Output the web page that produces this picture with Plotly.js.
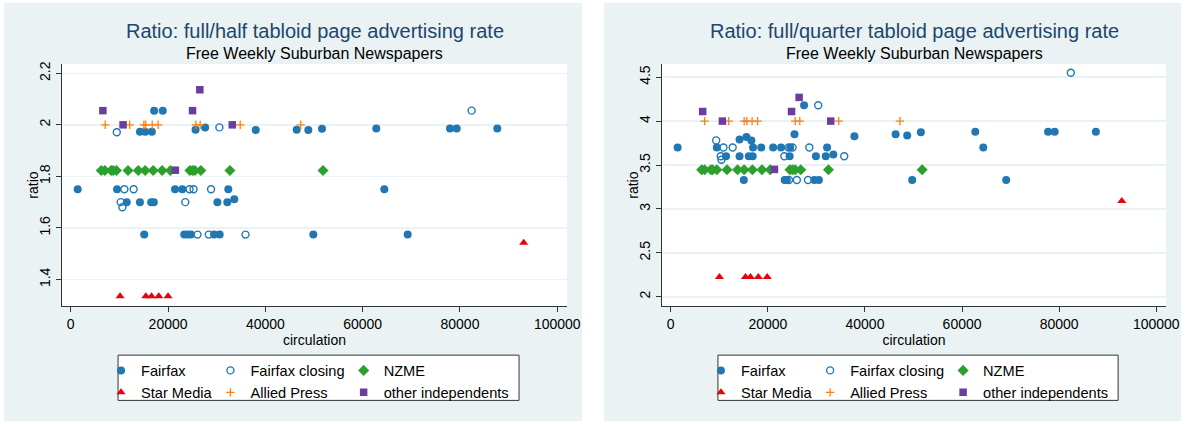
<!DOCTYPE html>
<html><head><meta charset="utf-8">
<script src="https://cdn.plot.ly/plotly-3.0.1.min.js"></script>
<style>
html,body{margin:0;padding:0;background:#fff;width:1188px;height:424px;overflow:hidden;}
#c1{position:absolute;left:4px;top:3px;width:578px;height:418px;}
#c2{position:absolute;left:604px;top:3px;width:577px;height:418px;}
</style></head><body>
<div id="c1"></div><div id="c2"></div>
<script>
// ---------- Series names ----------
var seriesNames = ["Fairfax", "Fairfax closing", "NZME", "Star Media", "Allied Press", "other independents"];

// ---------- Chart 1: full/half ratio ----------
var half_fairfax_x = [1430, 9520, 11500, 14220, 15100, 14220, 15300, 16670, 17140, 18910, 16530, 17070, 21430, 22930, 23330, 24010, 24700, 25650, 27620, 29460, 30610, 30140, 32180, 32380, 33610, 38030, 46440, 48830, 51640, 62800, 64450, 49860, 69250, 77950, 79330, 87670];
var half_fairfax_y = [1.75, 1.75, 1.70, 1.70, 1.574, 1.973, 1.973, 1.973, 2.055, 2.055, 1.70, 1.70, 1.75, 1.75, 1.574, 1.574, 1.574, 1.981, 1.99, 1.574, 1.574, 1.70, 1.70, 1.75, 1.711, 1.98, 1.981, 1.98, 1.985, 1.986, 1.75, 1.574, 1.574, 1.986, 1.986, 1.986];
var half_closing_x = [9460, 10270, 10610, 11020, 12930, 23540, 24420, 25240, 26060, 28370, 28840, 30550, 35920, 82400];
var half_closing_y = [1.971, 1.70, 1.68, 1.75, 1.75, 1.70, 1.75, 1.75, 1.574, 1.574, 1.75, 1.99, 1.574, 2.055];
var half_nzme_x = [6260, 7000, 8300, 8710, 9390, 11770, 13880, 15300, 16940, 18780, 20480, 24490, 25030, 25510, 26740, 32720, 51850];
var half_nzme_y = [1.823, 1.823, 1.823, 1.823, 1.823, 1.823, 1.823, 1.823, 1.823, 1.823, 1.823, 1.823, 1.823, 1.823, 1.823, 1.823, 1.823];
var half_star_x = [10140, 15440, 16600, 18100, 20000, 93100];
var half_star_y = [1.335, 1.335, 1.335, 1.335, 1.335, 1.542];
var half_allied_x = [7080, 12110, 15030, 15400, 16740, 17960, 25720, 26600, 34830, 47270];
var half_allied_y = [2.0, 2.0, 2.0, 2.0, 2.0, 2.0, 2.0, 2.0, 2.0, 2.0];
var half_other_x = [6600, 10750, 21500, 25030, 26530, 33200];
var half_other_y = [2.055, 2.0, 1.824, 2.055, 2.136, 2.0];

// ---------- Chart 2: full/quarter ratio ----------
var q_fairfax_x = [1420, 9490, 11390, 14170, 14170, 15050, 15590, 16610, 16070, 16880, 16950, 18640, 21090, 22720, 23460, 23900, 24610, 24480, 25490, 27460, 29560, 30510, 29900, 32200, 31930, 33490, 37830, 46310, 48700, 51510, 62730, 64370, 49730, 69090, 77710, 79070, 87560];
var q_fairfax_y = [3.70, 3.70, 3.60, 3.79, 3.60, 3.33, 3.82, 3.78, 3.60, 3.60, 3.70, 3.70, 3.70, 3.70, 3.33, 3.33, 3.70, 3.60, 3.85, 4.18, 3.33, 3.33, 3.60, 3.70, 3.60, 3.62, 3.827, 3.85, 3.835, 3.872, 3.88, 3.70, 3.33, 3.33, 3.88, 3.88, 3.88];
var q_closing_x = [9360, 10300, 10440, 10850, 12750, 23390, 24270, 25090, 24340, 25970, 28270, 28540, 30370, 35730, 82400];
var q_closing_y = [3.78, 3.60, 3.56, 3.70, 3.70, 3.60, 3.70, 3.70, 3.33, 3.33, 3.33, 3.70, 4.18, 3.60, 4.55];
var q_nzme_x = [6370, 6980, 8270, 8610, 9490, 11590, 13760, 15120, 16810, 18780, 20480, 24540, 25090, 25630, 26780, 32480, 51780];
var q_nzme_y = [3.447, 3.447, 3.447, 3.447, 3.447, 3.447, 3.447, 3.447, 3.447, 3.447, 3.447, 3.447, 3.447, 3.447, 3.447, 3.447, 3.447];
var q_star_x = [10030, 15390, 16410, 18040, 19870, 92900];
var q_star_y = [2.226, 2.226, 2.226, 2.226, 2.226, 3.09];
var q_allied_x = [6980, 11930, 15120, 15660, 16750, 17900, 25630, 26580, 34580, 47200];
var q_allied_y = [4.0, 4.0, 4.0, 4.0, 4.0, 4.0, 4.0, 4.0, 4.0, 4.0];
var q_other_x = [6580, 10640, 21360, 24880, 26440, 32950];
var q_other_y = [4.109, 4.0, 3.45, 4.109, 4.27, 4.0];

// ---------- Axis ticks ----------
var xTicks = [0, 20000, 40000, 60000, 80000, 100000];
var halfYTicks = [1.4, 1.6, 1.8, 2, 2.2];
var quarterYTicks = [2, 2.5, 3, 3.5, 4, 4.5];

// ---------- Styles ----------
var FONT = "Liberation Sans, Arial, sans-serif";
var BLUE = "#1f77b4", ORANGE = "#ff7f0e", GREEN = "#2ca02c", RED = "#e8000b", PURPLE = "#6b3d9e";
var markerStyles = [
  {symbol: "circle", size: 8, color: BLUE},
  {symbol: "circle-open", size: 7, color: BLUE, line: {color: BLUE, width: 1.4}},
  {symbol: "diamond", size: 8.5, color: GREEN},
  {symbol: "triangle-up", size: 8, color: RED},
  {symbol: "cross-thin-open", size: 6, color: ORANGE, line: {color: ORANGE, width: 1.3}},
  {symbol: "square", size: 7.5, color: PURPLE}
];
// legend column of each series (Stata-like 3 columns x 2 rows)
var legendIds = ["legend", "legend2", "legend3", "legend", "legend2", "legend3"];

function colLegend(x) {
  return {orientation: "v", x: x, xanchor: "left", y: -0.2, yanchor: "top",
          bgcolor: "rgba(0,0,0,0)", borderwidth: 0, tracegroupgap: 0, itemwidth: 30,
          traceorder: "normal", font: {family: FONT, size: 14.6, color: "#000"}};
}

function makeChart(divId, titleText, xs, ys, yRange, yTicks) {
  var traces = xs.map(function (x, i) {
    return {type: "scatter", mode: "markers", name: seriesNames[i], x: x, y: ys[i],
            marker: markerStyles[i], cliponaxis: false, hoverinfo: "skip", legend: legendIds[i]};
  });
  var layout = {
    width: document.getElementById(divId).clientWidth,
    height: 418,
    margin: {l: 58, r: 15, t: 61, b: 113},
    paper_bgcolor: "#eaf2f3",
    plot_bgcolor: "#ffffff",
    font: {family: FONT, color: "#000", size: 14},
    showlegend: true,
    legend: colLegend(0.0773),
    legend2: colLegend(0.2939),
    legend3: colLegend(0.5577),
    xaxis: {range: [-1800, 102000], tickvals: xTicks, tickformat: "d", showgrid: false, zeroline: false,
            showline: true, linecolor: "#333", linewidth: 1, ticks: "outside", ticklen: 5, tickcolor: "#333",
            tickfont: {size: 14}, automargin: false,
            title: {text: "circulation", font: {size: 14}, standoff: 2}},
    yaxis: {range: yRange, tickvals: yTicks, tickangle: -90, showgrid: true, gridcolor: "#eaf2f3", gridwidth: 1.5,
            zeroline: false, showline: true, linecolor: "#333", linewidth: 1, ticks: "outside", ticklen: 5,
            tickcolor: "#333", tickfont: {size: 14}, automargin: false},
    shapes: [
      {type: "rect", xref: "paper", yref: "paper", x0: 0.111, x1: 0.905, y0: -0.203, y1: -0.39,
       line: {color: "#333", width: 1}, fillcolor: "#ffffff", layer: "below"}
    ],
    annotations: [
      {text: titleText, xref: "paper", yref: "paper", x: 0.5, y: 1.135, xanchor: "center", yanchor: "middle",
       showarrow: false, font: {family: FONT, size: 20, color: "#1a476f"}},
      {text: "Free Weekly Suburban Newspapers", xref: "paper", yref: "paper", x: 0.5, y: 1.045,
       xanchor: "center", yanchor: "middle", showarrow: false, font: {family: FONT, size: 16, color: "#000"}},
      {text: "ratio", xref: "paper", yref: "paper", x: -0.058, y: 0.5, xanchor: "center", yanchor: "middle",
       textangle: -90, showarrow: false, font: {family: FONT, size: 14, color: "#000"}}
    ]
  };
  Plotly.newPlot(divId, traces, layout, {displayModeBar: false, staticPlot: true});
}

makeChart("c1", "Ratio: full/half tabloid page advertising rate",
  [half_fairfax_x, half_closing_x, half_nzme_x, half_star_x, half_allied_x, half_other_x],
  [half_fairfax_y, half_closing_y, half_nzme_y, half_star_y, half_allied_y, half_other_y],
  [1.297, 2.236], halfYTicks);

makeChart("c2", "Ratio: full/quarter tabloid page advertising rate",
  [q_fairfax_x, q_closing_x, q_nzme_x, q_star_x, q_allied_x, q_other_x],
  [q_fairfax_y, q_closing_y, q_nzme_y, q_star_y, q_allied_y, q_other_y],
  [1.895, 4.65], quarterYTicks);
</script>
</body></html>
